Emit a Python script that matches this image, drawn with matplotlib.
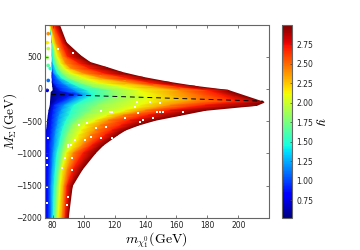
import numpy as np
import matplotlib
matplotlib.use('Agg')
import matplotlib.pyplot as plt

plt.rcParams['mathtext.fontset'] = 'cm'

# y values of the colour contours
levels = [0.9, 1.2, 1.5, 1.8, 2.1, 2.4, 2.7, 3.0]
# M_Sigma of each ray across the contours; index 12 is the centre line
ray_y = [-2000, -1504, -1250, -995, -872, -717, -640, -563, -486, -409, -332, -255, 0,
         -23, 40, 100, 178, 255, 330, 409, 517, 717, 1000]
tip_y = [-54, -77, -85, -100, -123, -147, -177, -193, -208]

# inner edge of the cloud and its y value along the rays
x_inner = [75.8, 75.8, 75.8, 75.8, 75.8, 75.8, 76, 76.4, 76.7, 77.1, 77.6, 78.4, 79,
           80.3, 80, 79.7, 79.7, 79.7, 79.7, 79.7, 79.7, 79.7, 78.4]
z_inner = [0.8, 0.8, 0.8, 0.8, 0.8, 0.75, 0.72, 0.7, 0.68, 0.65, 0.62, 0.6, 0.52,
           0.52, 0.52, 0.52, 0.52, 0.52, 0.52, 0.52, 0.52, 0.52, 0.52]

x_09 = [77.1, 77.1, 77.4, 77.7, 77.7, 78.4, 78.7, 79, 79.3, 79.7, 80.2, 81, 93.2,
        84.8, 82.3, 80.3, 79.8, 79.7, 79.7, 79.7, 79.7, 79.7, 78.4]
x_12 = [79, 79, 79.6, 80.3, 81, 81.6, 82.1, 82.9, 83.4, 84.2, 85.5, 87.4, 99,
        94.5, 90, 86.1, 82.9, 80.6, 80, 79.7, 79.7, 79.7, 78.4]
x_15 = [80.3, 81, 81.8, 82.9, 84.2, 85.5, 86.3, 87.4, 88.8, 90.7, 92, 93.9, 106.2,
        102.9, 96.5, 91.3, 85.5, 82.9, 81.6, 80.3, 80, 79.7, 78.4]
x_18 = [81.9, 82.9, 84.2, 86.1, 87.4, 89.4, 91, 92.6, 95.8, 100.3, 104.9, 108.8, 120.4,
        118.4, 105.5, 97.8, 90, 86.1, 83.6, 82.3, 81, 80, 78.4]
x_21 = [83.6, 84.8, 85.8, 88.7, 92.6, 96.5, 98.4, 101, 107.5, 115.2, 126.8, 136.5, 143,
        136.5, 124.9, 109.4, 99.7, 91.3, 87.4, 84.8, 82.9, 80.3, 78.4]
x_24 = [86.1, 87.4, 89.4, 93.2, 99.1, 104.2, 107.5, 110.7, 115.9, 125.5, 139.8, 155.9, 172,
        162.4, 146.2, 130, 110.7, 99, 91.3, 88.1, 86.1, 82.3, 78.7]
x_27 = [88.1, 89.4, 93.2, 99.7, 105.5, 113.9, 118.4, 124.3, 130, 141.7, 155.9, 178.5, 199.8,
        181.7, 161, 143, 126.8, 112, 102.9, 96.5, 89.4, 86.1, 81]
x_30 = [90, 92.6, 99, 107.5, 112.6, 121.7, 126.8, 135.2, 146.2, 162.4, 178.5, 212, 216.6,
        193.4, 172, 155.9, 138.5, 124.9, 115.2, 104.2, 97.8, 88.7, 84.2]

# stray points left of the gap at the top
stray_x = [77.1, 76.4, 77.1, 76.4, 77, 78.4, 77.1, 76.4]
stray_y = [856, 717, 625, 486, 363, 316, 131, -23]
stray_z = [2.4, 2.15, 1.95, 1.85, 1.65, 1.5, 1.1, 0.7]

# small holes in the cloud
hole_x = [90, 94.5, 101, 92.6, 88.1, 86.1, 92.6, 90, 89.4, 76.4, 76.4, 77.1, 76.4, 76.4,
          117, 133, 147.5, 151.4, 136.5, 83.6, 93.2, 111.3, 118.4, 102.3, 97.1, 108.1,
          114.6, 118.4, 111.3, 104.9, 90, 92, 134.6, 143, 149.4, 135.2, 149.4, 164.3,
          126.8, 138.5, 145]
hole_y = [-903, -795, -795, -1072, -1072, -1227, -1258, -1674, -1798, -1072, -1180, -764, -1520, -1767,
          -363, -285, -363, -363, -517, 625, 563, -347, -363, -532, -563, -609,
          -594, -764, -764, -748, -872, -872, -208, -208, -224, -378, -363, -363,
          -455, -486, -455]

line_x = [79, 216]
line_y = [-85, -190]

x_ticks = [80, 100, 120, 140, 160, 180, 200]
y_ticks = [-2000, -1500, -1000, -500, 0, 500]
cb_ticks = [0.75, 1.0, 1.25, 1.5, 1.75, 2.0, 2.25, 2.5, 2.75]

fig = plt.figure(figsize=(3.6, 2.5), dpi=100)
ax = fig.add_axes([45 / 360, 32 / 250, 223.5 / 360, 193 / 250])
cax = fig.add_axes([282 / 360, 32 / 250, 10 / 360, 193 / 250])

X = np.array([x_inner, x_09, x_12, x_15, x_18, x_21, x_24, x_27, x_30], dtype=float)
Y = np.tile(np.array(ray_y, dtype=float), (9, 1))
Y[:, 12] = tip_y
Z = np.array([z_inner] + [[lv] * len(ray_y) for lv in levels], dtype=float)

mesh = ax.pcolormesh(X, Y, Z, shading='gouraud', cmap='jet', vmin=0.52, vmax=3.0)
ax.scatter(stray_x, stray_y, c=stray_z, cmap='jet', vmin=0.52, vmax=3.0, s=7, marker='o', linewidths=0)
ax.scatter(hole_x, hole_y, c='white', s=0.6, marker='s', linewidths=0)
ax.plot(line_x, line_y, color='k', lw=0.7, ls=(0, (5, 4)))

ax.set_xlim(75, 219.5)
ax.set_ylim(-2000, 990)
ax.set_xticks(x_ticks)
ax.set_yticks(y_ticks)
ax.tick_params(direction='in', top=True, right=True, labelsize=5.5, length=2.5, width=0.5, color='#444444', pad=2, labelcolor='#222222')
ax.set_xlabel(r'$m_{\chi_1^0}(\mathrm{GeV})$', fontsize=10, labelpad=0)
ax.set_ylabel(r'$M_{\Sigma}(\mathrm{GeV})$', fontsize=9.5, labelpad=-2)
for s in ax.spines.values():
    s.set_linewidth(0.8)
    s.set_color('#666666')

cb = fig.colorbar(mesh, cax=cax, ticks=cb_ticks)
cb.ax.set_yticklabels(['%.2f' % t for t in cb_ticks])
cb.ax.tick_params(direction='in', labelsize=5.5, length=1.5, width=0.5, color='#444444', pad=3, labelcolor='#222222')
cb.outline.set_linewidth(0.8)
cb.outline.set_edgecolor('#666666')
cb.set_label(r'$y$', fontsize=10, rotation=270, labelpad=10)

fig.savefig('out.png', dpi=100)
